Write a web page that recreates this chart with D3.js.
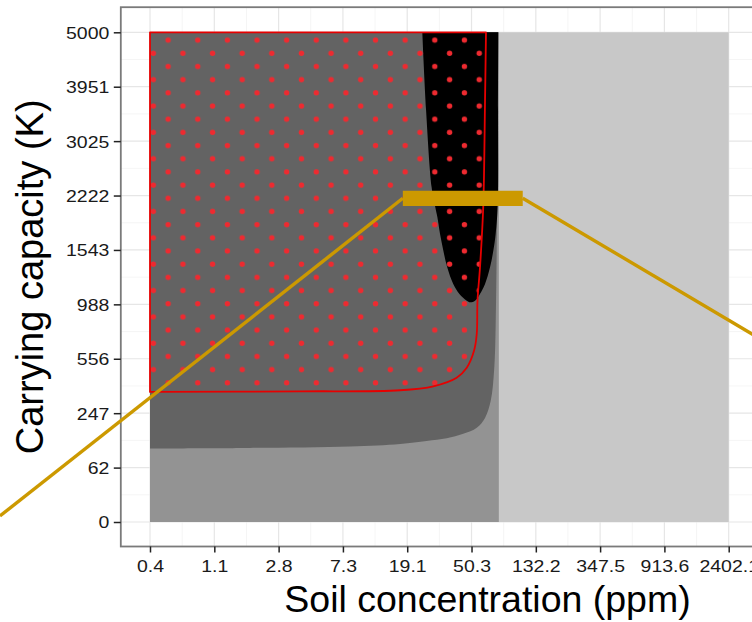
<!DOCTYPE html>
<html><head><meta charset="utf-8">
<script src="https://cdn.jsdelivr.net/npm/d3@7"></script>
<style>body{margin:0;background:#fff}</style>
</head><body>
<svg id="chart" width="752" height="622"></svg>
<script>
// ---- data ----
const xTickValues = [0.4, 1.052, 2.766, 7.273, 19.12, 50.28, 132.2, 347.5, 913.6, 2402.1];
const xTickLabels = ["0.4","1.1","2.8","7.3","19.1","50.3","132.2","347.5","913.6","2402.1"];
const yTickValues = [0, 61.7, 246.9, 555.6, 987.7, 1543.2, 2222.2, 3024.7, 3950.6, 5000];
const yTickLabels = ["0","62","247","556","988","1543","2222","3025","3951","5000"];

const xDomain = [0.4, 2402.1];
const kDomain = [0, 5000];

// full grid (light grey) and lower-concentration band (medium grey)
const lightX = [0.4, 2402.1];
const midX = [0.4, 75.8];

// dark grey region boundary (from top right, down, then left)
const darkX = [74.9, 73.8, 72.7, 70.8, 67.1, 61.6, 54.4, 44.4, 34.6, 25.6, 17.2, 8.09, 1.80, 0.4];
const darkK = [5000, 2155, 1021, 496, 306, 226, 185, 162, 146, 137, 127, 119, 114.5, 113];

// black region outline
const blackX = [24.0, 25.4, 27.6, 29.0, 30.1, 31.3, 32.9, 34.9, 38.2, 41.9, 46.8, 49.2, 53.0, 57.1, 61.6, 66.4, 69.8, 72.3, 74.5, 74.9, 75.2];
const blackK = [5000, 3532, 2337, 2088, 1936, 1731, 1536, 1352, 1181, 1084, 1021, 1006, 1021, 1084, 1181, 1352, 1536, 1731, 2088, 3532, 5000];

// red dotted region boundary (from top right, down, then left)
const redX = [62.5, 61.6, 60.0, 57.1, 55.0, 54.4, 52.2, 46.8, 40.2, 28.3, 17.2, 3.81, 0.4];
const redK = [5000, 3706, 2088, 1349, 1021, 739, 611, 496, 434, 384, 362, 356, 353];

// gold zoom marker
const barX = [17.9, 108.6];
const barK = 2185;
const connectorLeft = [0.0419, 0.75];
const connectorRight = [5200, 613];

// ---- layout ----
const svg = d3.select("#chart");
const FONT = "'Liberation Sans', Arial, Helvetica, sans-serif";

const x = d3.scaleLog().domain(xDomain).range([150, 728.7]);
const y = d3.scaleSqrt().domain(kDomain).range([522, 32.3]);

const panel = {x0: 120.8, x1: 757.6, y0: 7.2, y1: 546.5};

svg.append("rect").attr("x", 0).attr("y", 0).attr("width", 752).attr("height", 622).attr("fill", "#fff");

// grid
const grid = svg.append("g");
const xPix = xTickValues.map(x), yPix = yTickValues.map(y);
const xMinor = xPix.slice(1).map((p, i) => (p + xPix[i]) / 2);
const yMinor = yPix.slice(1).map((p, i) => (p + yPix[i]) / 2);
grid.selectAll(".xmin").data(xMinor).join("line")
  .attr("x1", d => d).attr("x2", d => d).attr("y1", panel.y0).attr("y2", panel.y1)
  .attr("stroke", "#f2f2f2").attr("stroke-width", 0.8);
grid.selectAll(".ymin").data(yMinor).join("line")
  .attr("y1", d => d).attr("y2", d => d).attr("x1", panel.x0).attr("x2", panel.x1)
  .attr("stroke", "#f2f2f2").attr("stroke-width", 0.8);
grid.selectAll(".xmaj").data(xPix).join("line")
  .attr("x1", d => d).attr("x2", d => d).attr("y1", panel.y0).attr("y2", panel.y1)
  .attr("stroke", "#e6e6e6").attr("stroke-width", 1.2);
grid.selectAll(".ymaj").data(yPix).join("line")
  .attr("y1", d => d).attr("y2", d => d).attr("x1", panel.x0).attr("x2", panel.x1)
  .attr("stroke", "#e6e6e6").attr("stroke-width", 1.2);

// regions
const plot = svg.append("g");
plot.append("rect")
  .attr("x", x(lightX[0])).attr("width", x(lightX[1]) - x(lightX[0]))
  .attr("y", y(kDomain[1])).attr("height", y(kDomain[0]) - y(kDomain[1]))
  .attr("fill", "#c8c8c8");
plot.append("rect")
  .attr("x", x(midX[0])).attr("width", x(midX[1]) - x(midX[0]))
  .attr("y", y(kDomain[1])).attr("height", y(kDomain[0]) - y(kDomain[1]))
  .attr("fill", "#939393");

const line = d3.line().x(d => x(d[0])).y(d => y(d[1])).curve(d3.curveCatmullRom.alpha(0.5));

const darkPts = darkX.map((v, i) => [v, darkK[i]]);
plot.append("path")
  .attr("d", line(darkPts) + `L${x(0.4)},${y(5000)}Z`)
  .attr("fill", "#636363");

const blackPts = blackX.map((v, i) => [v, blackK[i]]);
plot.append("path")
  .attr("d", line(blackPts) + "Z")
  .attr("fill", "#000");

// dot pattern
const defs = svg.append("defs");
const pat = defs.append("pattern").attr("id", "dots")
  .attr("patternUnits", "userSpaceOnUse")
  .attr("x", 145.9).attr("y", 33.53)
  .attr("width", 29.63).attr("height", 26.36);
pat.append("circle").attr("cx", 7.4).attr("cy", 19.77).attr("r", 2.7).attr("fill", "#ee2a30");
pat.append("circle").attr("cx", 22.215).attr("cy", 6.59).attr("r", 2.7).attr("fill", "#ee2a30");

const redPts = redX.map((v, i) => [v, redK[i]]);
plot.append("path")
  .attr("d", line(redPts) + `L${x(0.4)},${y(5000)}Z`)
  .attr("fill", "url(#dots)")
  .attr("stroke", "#e60000").attr("stroke-width", 1.8).attr("stroke-linejoin", "round");

// panel border (left, top, bottom visible)
svg.append("rect")
  .attr("x", panel.x0).attr("y", panel.y0)
  .attr("width", panel.x1 - panel.x0).attr("height", panel.y1 - panel.y0)
  .attr("fill", "none").attr("stroke", "#7a7a7a").attr("stroke-width", 1.8);

// axes
const xAxis = d3.axisBottom(x).tickValues(xTickValues)
  .tickFormat((d, i) => xTickLabels[i]).tickSize(6).tickSizeOuter(0);
const gx = svg.append("g").attr("transform", `translate(0,${panel.y1})`).call(xAxis);
gx.select(".domain").remove();
gx.selectAll(".tick line").attr("stroke", "#222").attr("stroke-width", 1.5);
gx.selectAll(".tick text")
  .attr("y", 0).attr("dy", null)
  .attr("transform", "translate(0,25.5) scale(1.18,1)")
  .attr("font-family", FONT).attr("font-size", 16.5).attr("fill", "#1a1a1a");

const yAxis = d3.axisLeft(y).tickValues(yTickValues)
  .tickFormat((d, i) => yTickLabels[i]).tickSize(7).tickSizeOuter(0);
const gy = svg.append("g").attr("transform", `translate(${panel.x0},0)`).call(yAxis);
gy.select(".domain").remove();
gy.selectAll(".tick line").attr("stroke", "#222").attr("stroke-width", 1.5);
gy.selectAll(".tick text")
  .attr("x", 0).attr("dy", "0.36em")
  .attr("transform", "translate(-11.5,0) scale(1.18,1)")
  .attr("text-anchor", "end")
  .attr("font-family", FONT).attr("font-size", 16.5).attr("fill", "#1a1a1a");

// gold zoom marker
const gold = "#cc9900";
svg.append("line")
  .attr("x1", x(barX[0])).attr("y1", y(barK))
  .attr("x2", x(connectorLeft[0])).attr("y2", y(connectorLeft[1]))
  .attr("stroke", gold).attr("stroke-width", 3.4);
svg.append("line")
  .attr("x1", x(barX[1])).attr("y1", y(barK))
  .attr("x2", x(connectorRight[0])).attr("y2", y(connectorRight[1]))
  .attr("stroke", gold).attr("stroke-width", 3.4);
svg.append("line")
  .attr("x1", x(barX[0])).attr("y1", y(barK))
  .attr("x2", x(barX[1])).attr("y2", y(barK))
  .attr("stroke", gold).attr("stroke-width", 15.3);

// titles
svg.append("text")
  .attr("x", 487.5).attr("y", 612)
  .attr("text-anchor", "middle")
  .attr("font-family", FONT).attr("font-size", 37.5).attr("fill", "#000")
  .text("Soil concentration (ppm)");
svg.append("text")
  .attr("transform", `translate(43,${(panel.y0 + panel.y1) / 2}) rotate(-90)`)
  .attr("text-anchor", "middle")
  .attr("font-family", FONT).attr("font-size", 38).attr("fill", "#000")
  .text("Carrying capacity (K)");
</script>
</body></html>
